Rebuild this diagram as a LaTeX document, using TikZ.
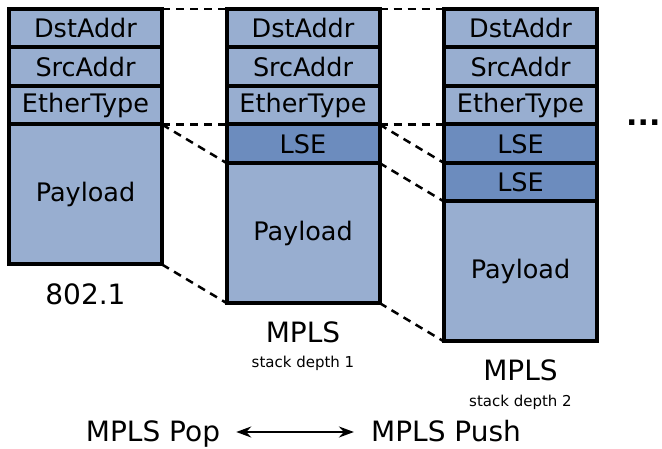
\documentclass[tikz,border=0pt]{standalone}
\usepackage{fontspec}
\setmainfont{DejaVu Sans}
\usetikzlibrary{positioning, arrows.meta}

\definecolor{hdrblue}{RGB}{152,174,208}
\definecolor{lseblue}{RGB}{108,140,190}

\begin{document}
\begin{tikzpicture}[
    x=1pt, y=1pt,
    >={Stealth[length=15pt, width=11pt, inset=5pt]},
    field/.style={
        draw, line width=4pt, fill=hdrblue,
        minimum width=153pt, minimum height=38.5pt,
        inner sep=0pt, outer sep=0pt,
        font=\fontsize{25.5}{25.5}\selectfont,
    },
    lse/.style={field, fill=lseblue},
    payload/.style={field, minimum height=140pt},
    link/.style={line width=2.5pt, dash pattern=on 8pt off 6pt},
    caption/.style={
        inner sep=0pt, text height=20pt, text depth=2pt,
        font=\fontsize{28}{28}\selectfont,
    },
    depth/.style={inner sep=0pt, font=\fontsize{15}{15}\selectfont},
]

\useasboundingbox (0,0) rectangle (662,-449);

% column x-coordinates
\def\colA{85.5}    % 802.1
\def\colB{303}     % MPLS, one label
\def\colC{520.5}   % MPLS, two labels
\def\ytop{-9}

% 802.1 frame
\node[field, anchor=north] (a1) at (\colA,\ytop) {DstAddr};
\node[field, below=0pt of a1] (a2) {SrcAddr};
\node[field, below=0pt of a2] (a3) {EtherType};
\node[payload, below=0pt of a3] (a4) {Payload};

% MPLS frame, stack depth 1
\node[field, anchor=north] (b1) at (\colB,\ytop) {DstAddr};
\node[field, below=0pt of b1] (b2) {SrcAddr};
\node[field, below=0pt of b2] (b3) {EtherType};
\node[lse, below=0pt of b3] (b4) {LSE};
\node[payload, below=0pt of b4] (b5) {Payload};

% MPLS frame, stack depth 2
\node[field, anchor=north] (c1) at (\colC,\ytop) {DstAddr};
\node[field, below=0pt of c1] (c2) {SrcAddr};
\node[field, below=0pt of c2] (c3) {EtherType};
\node[lse, below=0pt of c3] (c4) {LSE};
\node[lse, below=0pt of c4] (c5) {LSE};
\node[payload, below=0pt of c5] (c6) {Payload};

% captions
\node[caption, below=20pt of a4] (capA) {802.1};
\node[caption, below=19pt of b5] (capB) {MPLS};
\node[depth, below=12pt of capB] (depB) {stack depth 1};
\node[caption, below=19pt of c6] (capC) {MPLS};
\node[depth, below=12pt of capC] (depC) {stack depth 2};

\node[anchor=base west, font=\fontsize{30}{30}\selectfont\bfseries, inner sep=0pt]
    (more) at (626,-126) {...};

% --- dashed links ---
\draw[link] (a1.north east) -- (b1.north west);
\draw[link] (a3.south east) -- (b4.north west);
\draw[link] (a3.south east) -- (b4.south west);
\draw[link] (a4.south east) -- (b5.south west);
\draw[link] (b1.north east) -- (c1.north west);
\draw[link] (b3.south east) -- (c4.north west);
\draw[link] (b3.south east) -- (c4.south west);
\draw[link] (b4.south east) -- (c5.south west);
\draw[link] (b5.south east) -- (c6.south west);

% pop / push
\node[caption, anchor=base] (pop) at (153,-441) {MPLS Pop};
\node[caption, anchor=base] (push) at (446,-441) {MPLS Push};
\draw[<->, line width=2pt, shorten <=16pt, shorten >=17pt] (pop.east) -- (push.west);

\end{tikzpicture}
\end{document}
